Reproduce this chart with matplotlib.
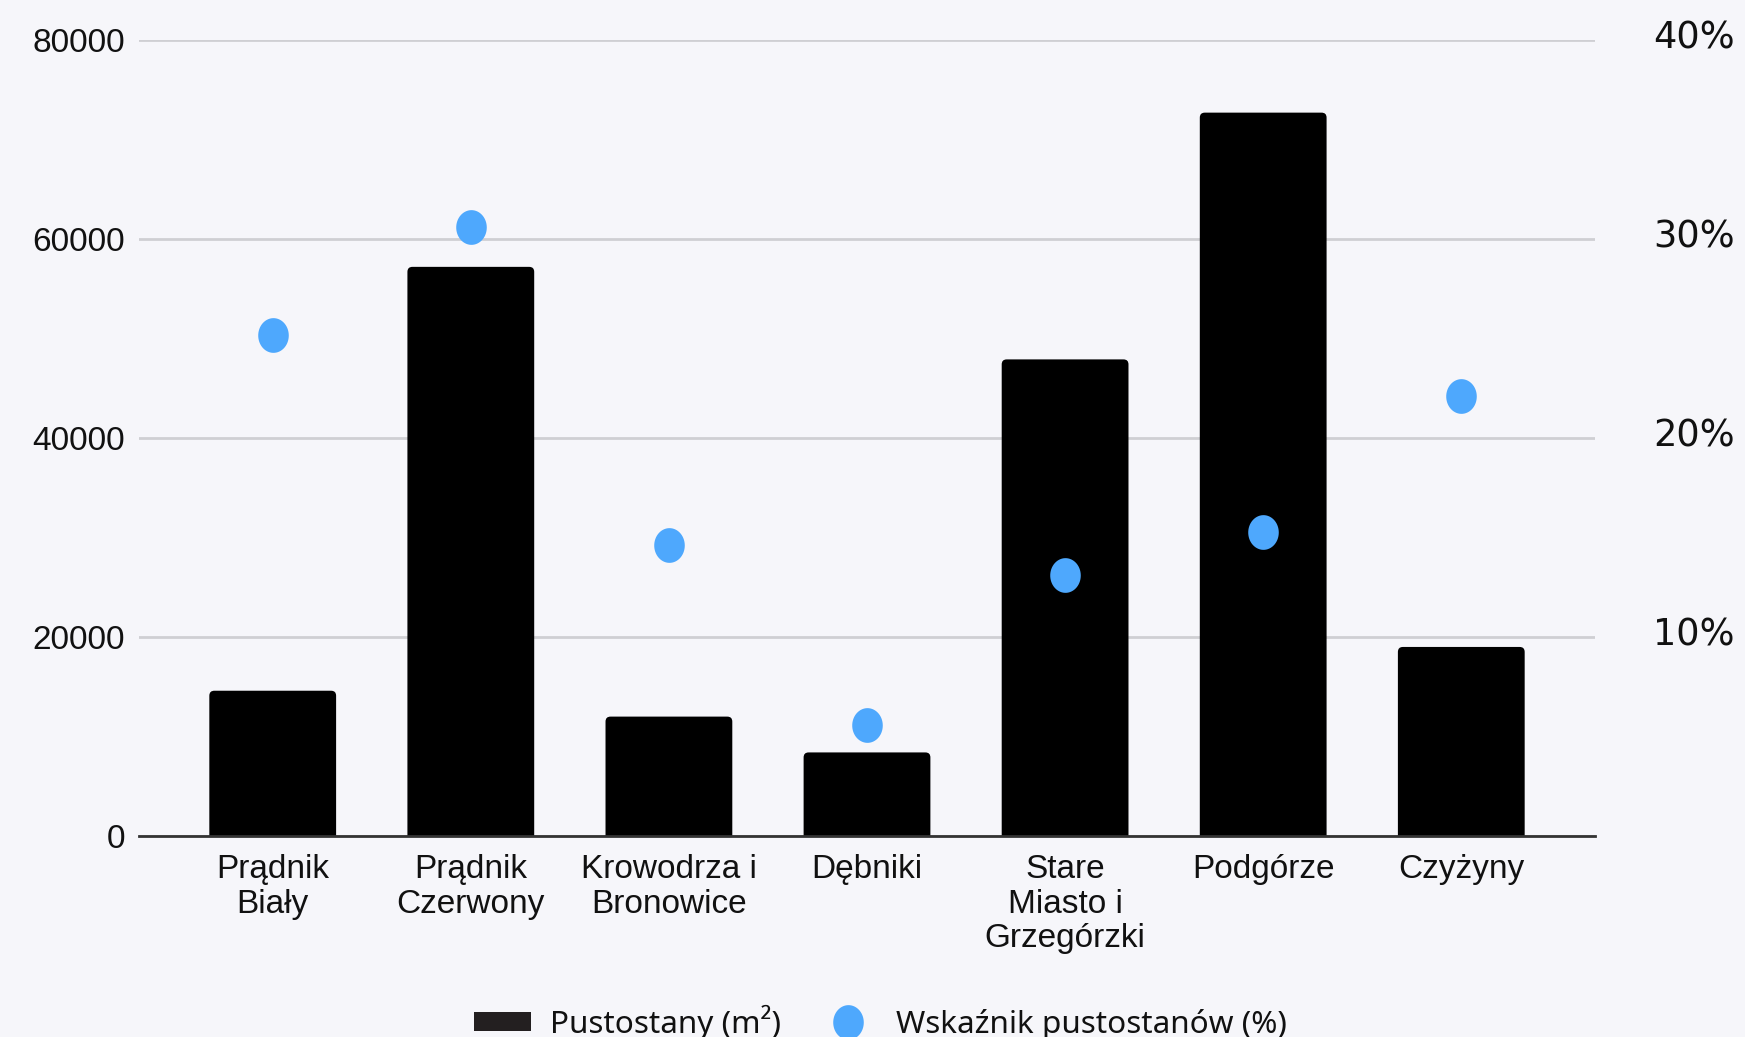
import matplotlib
matplotlib.use("Agg")
import matplotlib.pyplot as plt
import matplotlib.transforms as mtransforms
import numpy as np
from matplotlib.path import Path
from matplotlib.patches import FancyBboxPatch, Patch

categories = ["Prądnik\nBiały", "Prądnik\nCzerwony", "Krowodrza i\nBronowice", "Dębniki",
              "Stare\nMiasto i\nGrzegórzki", "Podgórze", "Czyżyny"]
vacant_m2 = [14600, 57200, 12000, 8400, 47900, 72700, 19000]
vacancy_pct = [25.2, 30.6, 14.6, 5.6, 13.1, 15.3, 22.1]
left_ticks = [0, 20000, 40000, 60000, 80000]
right_ticks = [10, 20, 30, 40]
right_labels = ["10%", "20%", "30%", "40%"]

BG = "#f6f6fa"
BLUE = "#4ea8fd"
BAR = "#000000"

fig = plt.figure(figsize=(17.45, 10.37), dpi=100, facecolor=BG)
ax = fig.add_axes([139/1745, 1 - 836/1037, (1595-139)/1745, (836-40)/1037])
ax.set_facecolor(BG)

x = np.arange(len(categories))
bars = ax.bar(x, vacant_m2, width=0.64, color=BAR, zorder=3)
ax.set_xlim(-0.675, len(categories) - 1 + 0.675)
ax.set_ylim(0, 80000)

# rounded top corners: replace each bar's drawing with a rounded box (bottom hidden below axis)
px_per_x = (1595 - 139) / (len(categories) - 1 + 1.35)
px_per_y = (836 - 40) / 80000
r_px = 5
for b in bars:
    b.set_visible(False)
    x0, w, h = b.get_x(), b.get_width(), b.get_height()
    rs = r_px / px_per_x
    fb = FancyBboxPatch((x0, -3000), w, h + 3000,
                        boxstyle=f"round,pad=0,rounding_size={rs}",
                        mutation_aspect=px_per_x / px_per_y,
                        facecolor=BAR, edgecolor="none", zorder=3, clip_on=True)
    ax.add_patch(fb)

ax.set_yticks(left_ticks)
ax.set_yticklabels([str(v) for v in left_ticks], family=["Liberation Sans", "DejaVu Sans"],
                   fontsize=24, color="#111111")
ax.set_xticks(x)
ax.set_xticklabels(categories, family=["Liberation Sans", "DejaVu Sans"], fontsize=24,
                   color="#111111", linespacing=1.15, va="top")
ax.tick_params(axis="y", length=0, pad=10)
ax.tick_params(axis="x", length=0, pad=13)
ax.grid(axis="y", color="#cfcfd3", linewidth=2, zorder=0)
for s in ["top", "right", "left"]:
    ax.spines[s].set_visible(False)
ax.spines["bottom"].set_color("#333333")
ax.spines["bottom"].set_linewidth(2)
ax.spines["bottom"].set_zorder(4)

# ellipse-ish dot marker (slightly taller than wide)
t = np.linspace(0, 2*np.pi, 60)
ell = Path(np.column_stack([0.88*np.cos(t), np.sin(t)]), closed=True)

ax2 = ax.twinx()
ax2.set_ylim(0, 40)
ax2.plot(x, vacancy_pct, linestyle="none", marker=ell, markersize=25,
         color=BLUE, markeredgewidth=0, zorder=5)
ax2.set_yticks(right_ticks)
ax2.set_yticklabels(right_labels, family=["DejaVu Sans"], fontsize=26.5, color="#111111")
ax2.tick_params(axis="y", length=0, pad=42)
up = mtransforms.ScaledTranslation(0, 6/100, fig.dpi_scale_trans)
for lbl in ax2.get_yticklabels():
    lbl.set_transform(lbl.get_transform() + up)
for s in ["top", "right", "left", "bottom"]:
    ax2.spines[s].set_visible(False)

handles = [Patch(facecolor="#231f20", edgecolor="none"),
           plt.Line2D([], [], linestyle="none", marker=ell, markersize=25, color=BLUE,
                      markeredgewidth=0)]
labels = ["Pustostany (m²)", "Wskaźnik pustostanów (%)"]
leg = fig.legend(handles, labels, loc="center", bbox_to_anchor=(880/1745, 1 - 1022/1037),
                 ncol=2, frameon=False, prop={"family": ["Noto Sans", "DejaVu Sans"], "size": 22.7},
                 handlelength=1.83, handleheight=0.55, columnspacing=1.2, handletextpad=0.6)
for tx in leg.get_texts():
    tx.set_color("#111111")

fig.savefig("out.png", dpi=100, facecolor=BG)
